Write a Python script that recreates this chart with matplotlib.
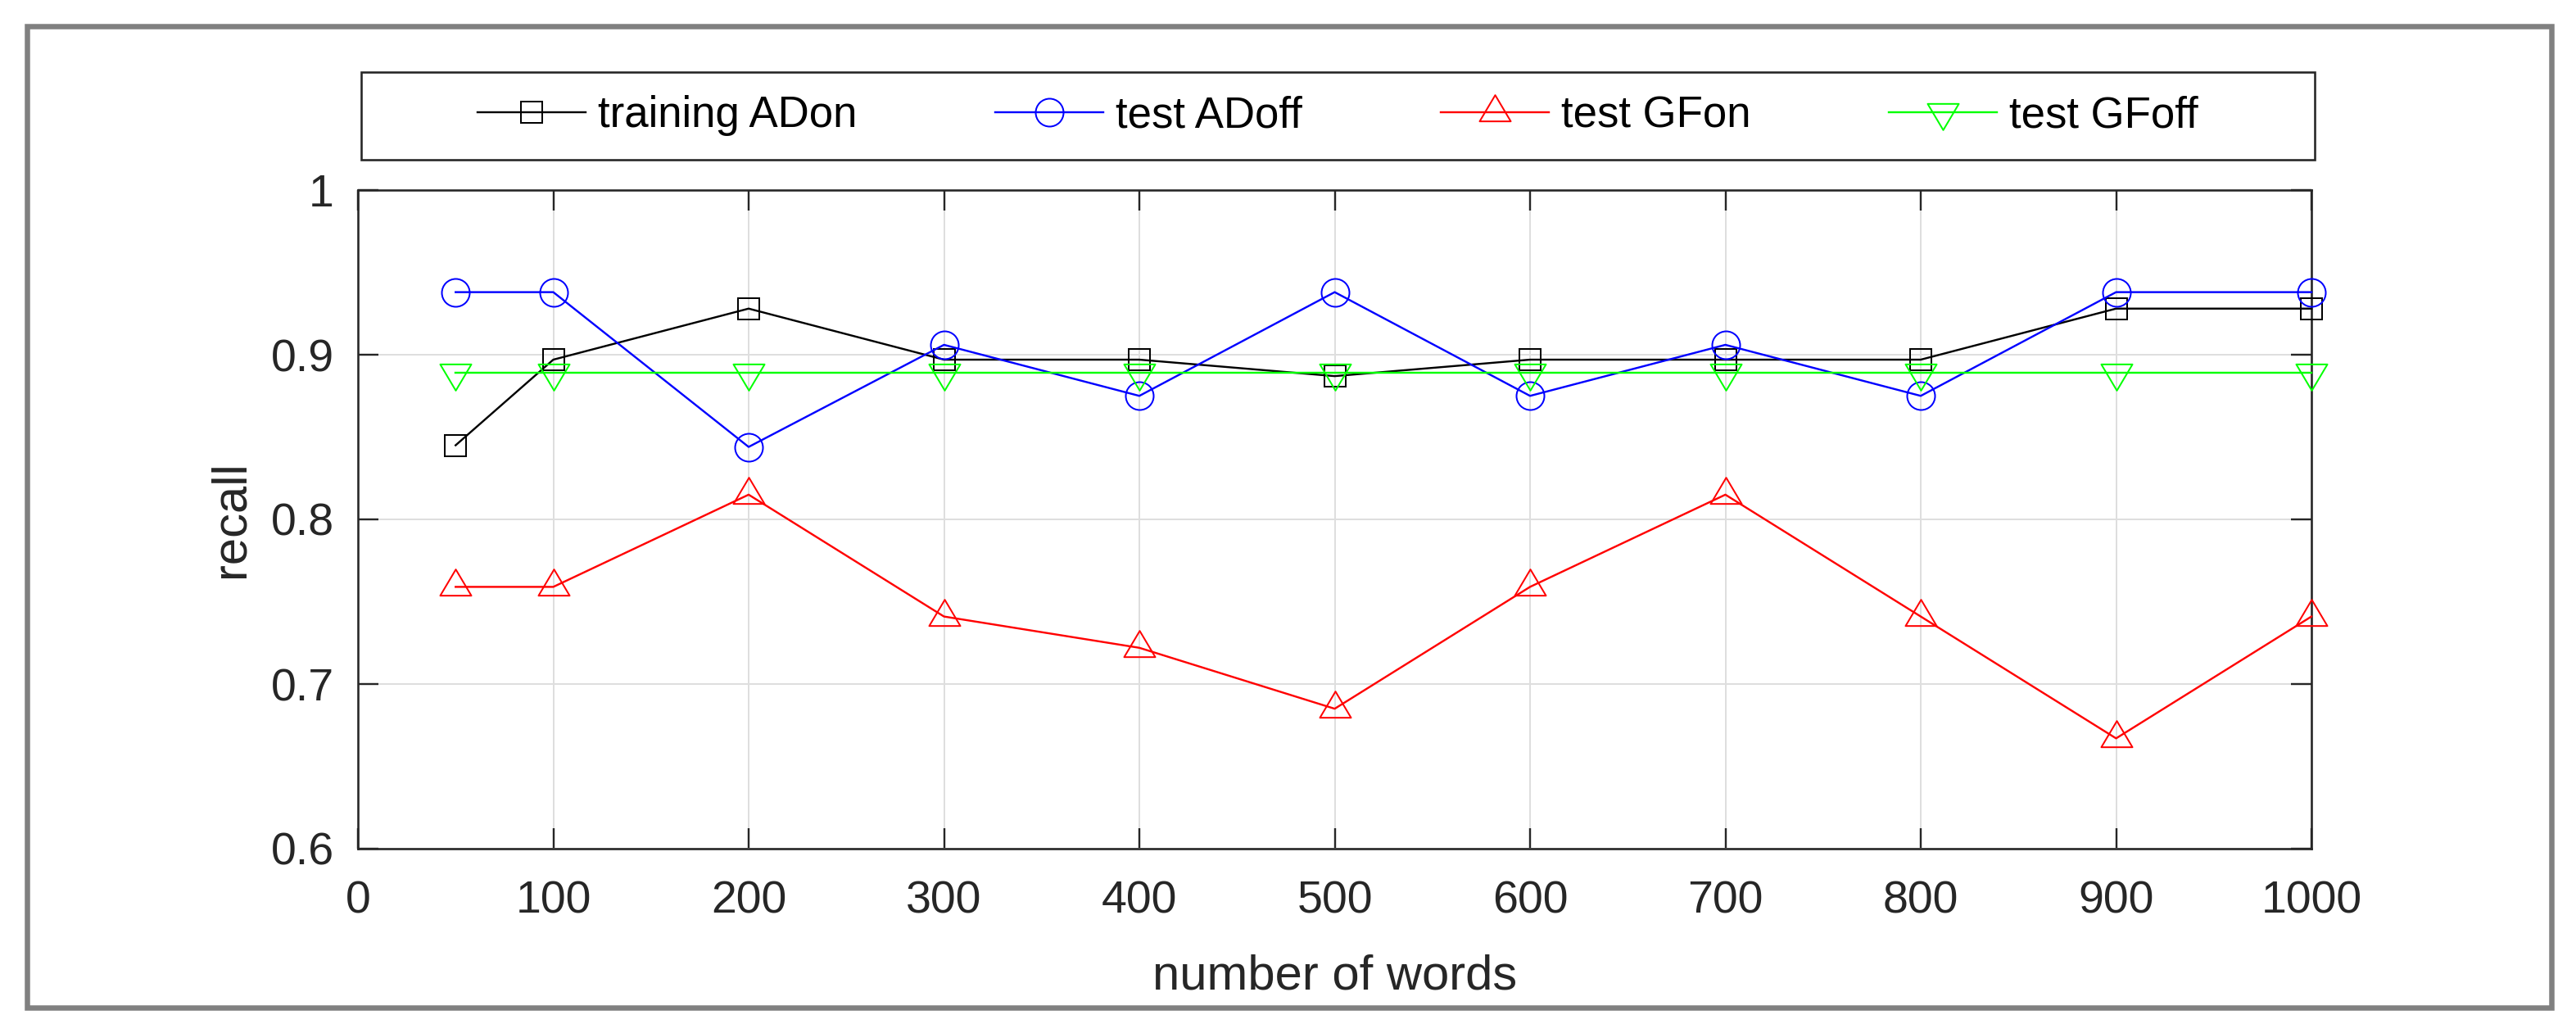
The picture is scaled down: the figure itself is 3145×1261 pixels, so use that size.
import matplotlib
matplotlib.use('Agg')
import matplotlib.pyplot as plt
from matplotlib.path import Path
from matplotlib.patches import Rectangle

# ---------------- data ----------------
x_words = [50, 100, 200, 300, 400, 500, 600, 700, 800, 900, 1000]
training_ADon = [0.845, 0.897, 0.928, 0.897, 0.897, 0.887, 0.897, 0.897, 0.897, 0.928, 0.928]
test_ADoff = [0.938, 0.938, 0.844, 0.906, 0.875, 0.938, 0.875, 0.906, 0.875, 0.938, 0.938]
test_GFon = [0.759, 0.759, 0.815, 0.741, 0.722, 0.685, 0.759, 0.815, 0.741, 0.667, 0.741]
test_GFoff = [0.889, 0.889, 0.889, 0.889, 0.889, 0.889, 0.889, 0.889, 0.889, 0.889, 0.889]
series_labels = ['training ADon', 'test ADoff', 'test GFon', 'test GFoff']
x_ticks = [0, 100, 200, 300, 400, 500, 600, 700, 800, 900, 1000]
y_ticks = [0.6, 0.7, 0.8, 0.9, 1.0]
y_ticklabels = ['0.6', '0.7', '0.8', '0.9', '1']
x_label = 'number of words'
y_label = 'recall'

# ---------------- figure ----------------
W, H, DPI = 3145, 1261, 100
plt.rcParams['font.family'] = ['Liberation Sans', 'DejaVu Sans']


def pt(pixels):
    return pixels * 72.0 / DPI


fig = plt.figure(figsize=(W / DPI, H / DPI), dpi=DPI)
fig.patch.set_facecolor('white')

AX_L, AX_R, AX_T, AX_B = 437, 2822, 232, 1036
ax = fig.add_axes([AX_L / W, 1 - AX_B / H, (AX_R - AX_L) / W, (AX_B - AX_T) / H])

# MATLAB-like triangles centred on their centroid
tri_up = Path([(-19, -32 / 3), (19, -32 / 3), (0, 64 / 3), (-19, -32 / 3)],
              [Path.MOVETO, Path.LINETO, Path.LINETO, Path.CLOSEPOLY])
tri_dn = Path([(-19, 32 / 3), (19, 32 / 3), (0, -64 / 3), (-19, 32 / 3)],
              [Path.MOVETO, Path.LINETO, Path.LINETO, Path.CLOSEPOLY])
tri_ms = pt(2 * 64 / 3)

lw = pt(2.4)
mew = pt(2.0)
styles = [
    dict(color='#000000', marker='s', ms=pt(26)),
    dict(color='#0000ff', marker='o', ms=pt(34)),
    dict(color='#ff0000', marker=tri_up, ms=tri_ms),
    dict(color='#00ff00', marker=tri_dn, ms=tri_ms),
]
for ys, lab, st in zip([training_ADon, test_ADoff, test_GFon, test_GFoff], series_labels, styles):
    ax.plot(x_words, ys, color=st['color'], lw=lw, marker=st['marker'], ms=st['ms'],
            mfc='none', mec=st['color'], mew=mew, label=lab, zorder=3, clip_on=False)

ax.set_xlim(0, 1000)
ax.set_ylim(0.6, 1.0)
ax.set_xticks(x_ticks)
ax.set_xticklabels([str(v) for v in x_ticks])
ax.set_yticks(y_ticks)
ax.set_yticklabels(y_ticklabels)

axis_col = '#262626'
ax.grid(True, color='#dedede', lw=pt(2))
ax.set_axisbelow(True)
for sp in ax.spines.values():
    sp.set_color(axis_col)
    sp.set_linewidth(pt(2.6))
ax.tick_params(axis='both', direction='in', length=pt(25), width=pt(2.4), color=axis_col,
               labelcolor=axis_col, labelsize=40, top=True, right=True)
ax.tick_params(axis='x', pad=28)
ax.tick_params(axis='y', pad=21)

ax.set_xlabel(x_label, fontsize=43, color=axis_col)
ax.xaxis.label.set_va('baseline')
ax.xaxis.set_label_coords(0.5, (AX_B - 1207) / (AX_B - AX_T))
ax.set_ylabel(y_label, fontsize=43, color=axis_col)
ax.yaxis.label.set_va('baseline')
ax.yaxis.set_label_coords((297 - AX_L) / (AX_R - AX_L), 0.5)

# legend (horizontal, framed box drawn separately)
LG_L, LG_R, LG_T, LG_B = 441, 2826, 88, 195
leg = ax.legend(loc='center', bbox_to_anchor=((LG_L + LG_R) / 2 / W, 1 - (LG_T + LG_B) / 2 / H),
                bbox_transform=fig.transFigure, ncol=4, frameon=False, fontsize=38,
                handlelength=2.5, handletextpad=0.28, columnspacing=3.2, borderpad=0,
                labelcolor='#000000')
fig.patches.append(Rectangle((LG_L / W, 1 - LG_B / H), (LG_R - LG_L) / W, (LG_B - LG_T) / H,
                             transform=fig.transFigure, fill=True, facecolor='none',
                             edgecolor=axis_col, lw=pt(2.6), zorder=5))

# outer grey frame
FR_L, FR_R, FR_T, FR_B = 33, 3114.5, 31.5, 1230
fig.patches.append(Rectangle((FR_L / W, 1 - FR_B / H), (FR_R - FR_L) / W, (FR_B - FR_T) / H,
                             transform=fig.transFigure, fill=False,
                             edgecolor='#808080', lw=pt(6.5), zorder=5))

fig.savefig('out.png', dpi=DPI, facecolor='white')
